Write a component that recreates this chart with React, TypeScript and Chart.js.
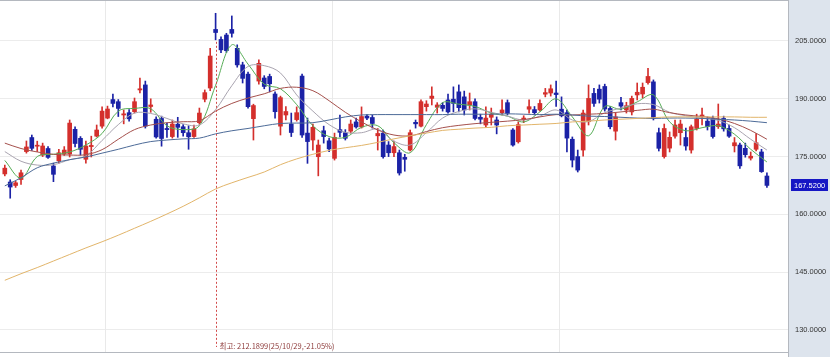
import React, { useEffect, useRef } from "react";
import { Chart, registerables } from "chart.js";

Chart.register(...registerables);

// ---- candle data (index = trading day) ----
const opens = [
  170.5, 168.4, 167.5, 169.05, 176.3, 179.95, 177.7, 175.4, 177.1, 172.56,
  173.9, 175.67, 175.67, 182.08, 179.75, 174.3, 177.6, 180.3, 182.9, 185.0,
  189.8, 189.25, 185.8, 186.4, 186.65, 192.3, 193.6, 188.0, 184.7, 184.9,
  182.3, 180.2, 183.4, 182.75, 181.2, 180.2, 183.8, 189.9, 192.8, 208.0,
  205.4, 206.55, 208.0, 203.1, 198.8, 196.4, 184.85, 194.6, 195.4, 195.8,
  191.25, 182.9, 185.8, 183.45, 184.6, 195.9, 181.1, 179.3, 174.97, 181.7,
  179.1, 174.55, 182.0, 181.2, 181.6, 184.0, 182.7, 185.5, 185.15, 180.4,
  181.1, 178.0, 176.0, 176.0, 174.8, 176.7, 183.9, 182.9, 187.95, 190.1,
  187.8, 188.3, 189.7, 189.9, 191.8, 190.5, 188.4, 189.25, 185.2, 183.2,
  185.2, 184.5, 186.4, 189.0, 181.9, 178.85, 184.6, 187.3, 187.2, 187.1,
  191.2, 191.5, 191.5, 187.3, 186.4, 179.5, 175.0, 176.7, 184.05, 191.4,
  192.5, 193.2, 187.5, 181.6, 189.0, 187.1, 186.6, 191.0, 191.25, 194.2,
  194.4, 181.2, 175.0, 177.2, 180.3, 181.2, 179.95, 176.7, 182.3, 185.3,
  184.2, 184.9, 182.8, 184.9, 182.3, 177.8, 178.0, 177.15, 174.6, 176.9,
  176.2, 169.96,
];
const highs = [
  172.8, 169.0, 168.6, 171.5, 179.05, 180.6, 179.0, 178.5, 177.6, 173.3,
  176.9, 177.6, 184.5, 182.7, 180.2, 179.05, 180.3, 183.2, 187.9, 188.1,
  191.2, 189.8, 187.1, 187.2, 190.2, 195.4, 194.6, 190.0, 185.3, 185.5,
  183.7, 184.5, 185.2, 183.3, 183.0, 183.2, 187.6, 192.3, 203.1, 212.1899,
  206.1, 207.0, 211.5, 204.0, 199.5, 196.95, 188.6, 200.1, 196.0, 196.4,
  191.8, 190.7, 188.0, 186.3, 187.9, 196.4, 185.0, 183.45, 179.3, 182.9,
  179.8, 181.1, 185.8, 182.0, 184.5, 185.0, 187.9, 185.9, 185.7, 182.3,
  181.9, 178.9, 179.0, 176.7, 175.6, 181.9, 184.5, 189.7, 189.5, 193.1,
  189.0, 189.0, 191.25, 193.1, 193.6, 192.0, 191.5, 190.0, 186.0, 187.9,
  187.6, 185.3, 189.7, 189.7, 182.3, 184.0, 185.6, 189.7, 188.0, 189.7,
  192.7, 193.6, 194.6, 190.5, 187.1, 180.1, 176.7, 187.1, 193.6, 192.7,
  193.6, 193.8, 188.0, 186.3, 190.4, 189.1, 190.7, 194.1, 194.1, 197.9,
  194.9, 182.4, 183.45, 181.4, 184.5, 184.5, 182.4, 183.2, 186.0, 187.6,
  185.3, 185.5, 188.65, 185.5, 183.2, 179.95, 178.5, 178.5, 176.2, 181.0,
  176.9, 170.8,
];
const lows = [
  170.0, 164.2, 167.0, 167.8, 175.9, 176.6, 176.3, 175.0, 174.5, 168.5,
  173.3, 175.3, 174.9, 177.5, 175.4, 173.3, 174.9, 180.1, 182.4, 184.8,
  187.9, 185.4, 183.5, 184.2, 186.3, 191.5, 182.4, 186.5, 179.8, 177.7,
  180.0, 179.8, 180.0, 180.3, 176.9, 180.0, 183.4, 189.2, 192.1, 205.3,
  202.0, 202.0, 206.0, 198.2, 194.1, 187.6, 179.3, 193.8, 192.6, 191.8,
  185.0, 180.6, 184.5, 180.2, 184.2, 180.0, 173.25, 176.7, 170.0, 178.5,
  176.3, 174.1, 180.1, 179.3, 181.1, 182.4, 182.4, 184.6, 182.4, 176.7,
  174.6, 175.0, 175.0, 170.2, 171.2, 176.45, 182.4, 182.7, 186.8, 188.4,
  186.3, 186.8, 186.3, 186.6, 186.6, 185.8, 187.1, 184.5, 183.5, 182.7,
  183.2, 180.9, 185.8, 185.8, 177.7, 178.5, 183.8, 186.3, 185.8, 186.8,
  190.5, 190.7, 188.0, 185.3, 176.2, 172.3, 171.0, 175.1, 183.2, 188.0,
  188.9, 186.8, 182.2, 179.3, 187.1, 186.3, 185.8, 189.7, 190.2, 193.8,
  184.5, 176.45, 174.6, 176.2, 179.8, 178.0, 176.7, 175.9, 181.9, 183.2,
  181.9, 179.8, 182.3, 181.6, 180.0, 176.2, 171.9, 174.85, 174.1, 176.45,
  170.9, 166.98,
];
const closes = [
  172.0, 167.1, 168.2, 170.8, 177.5, 177.15, 177.9, 177.75, 174.8, 170.4,
  176.0, 176.7, 183.7, 178.4, 176.9, 177.75, 177.9, 181.9, 186.8, 187.35,
  188.8, 187.5, 186.1, 184.8, 189.25, 192.6, 182.9, 188.4, 180.1, 179.7,
  182.0, 183.45, 182.6, 181.2, 180.15, 182.2, 186.3, 191.6, 201.1, 207.2,
  202.7, 202.5, 207.0, 198.8, 195.3, 187.95, 188.25, 199.2, 193.2, 193.9,
  186.65, 190.3, 186.7, 181.25, 186.4, 180.6, 178.9, 182.6, 178.0, 180.2,
  177.0, 180.0, 181.3, 179.75, 183.45, 182.7, 185.4, 185.0, 183.6, 181.0,
  174.97, 176.0, 177.6, 170.74, 174.3, 181.2, 183.5, 189.25, 188.65, 190.7,
  188.4, 187.5, 186.6, 188.8, 187.7, 187.1, 189.25, 184.9, 184.7, 185.0,
  186.0, 183.2, 187.1, 186.2, 178.0, 183.3, 185.0, 187.95, 186.4, 188.8,
  191.6, 192.6, 191.1, 185.6, 179.8, 174.1, 171.5, 186.3, 190.1, 188.8,
  189.9, 187.35, 182.75, 185.3, 188.1, 188.2, 190.1, 191.7, 193.0, 195.8,
  184.9, 177.15, 182.3, 180.0, 183.2, 183.45, 177.75, 182.75, 184.7, 185.8,
  182.8, 180.2, 183.45, 182.2, 180.3, 178.6, 172.6, 175.5, 175.1, 178.6,
  171.1, 167.52,
];

const maIndex = [
  0, 3, 6, 9, 12, 15, 18, 21, 24, 27, 30, 33, 36, 39, 42, 45, 48, 51, 54, 57,
  60, 63, 66, 69, 72, 75, 78, 81, 84, 87, 90, 93, 96, 99, 102, 105, 108, 111,
  114, 117, 120, 123, 126, 129, 132, 135, 138, 141,
];
const ma5 = [
  174.0, 169.4, 175.0, 175.6, 176.2, 178.0, 181.0, 186.8, 187.5, 187.4,
  183.0, 182.0, 183.0, 193.5, 204.0, 199.0, 193.8, 192.6, 188.5, 183.0,
  180.2, 180.0, 182.6, 183.0, 178.6, 176.0, 183.3, 189.0, 188.6, 188.0,
  186.3, 185.5, 184.0, 186.6, 190.0, 185.3, 180.4, 188.0, 187.3, 189.2,
  191.0, 184.0, 181.7, 182.5, 183.0, 180.8, 176.9, 173.6,
];
const ma10 = [
  176.3, 173.8, 172.8, 172.9, 174.2, 175.2, 179.2, 183.3, 186.3, 186.2,
  184.9, 183.5, 183.2, 187.2, 193.4, 198.4, 198.6, 196.7, 191.0, 186.8,
  183.3, 181.3, 181.2, 182.1, 179.0, 178.0, 181.2, 185.0, 186.7, 187.4,
  186.5, 185.5, 184.5, 185.5, 187.1, 184.5, 184.1, 186.4, 187.6, 188.7,
  188.5, 186.5, 185.6, 185.0, 184.4, 182.5, 179.5, 176.7,
];
const ma20 = [
  178.5, 177.1, 176.2, 175.6, 175.4, 175.5, 176.8, 179.5, 182.0, 183.2,
  183.8, 184.05, 184.3, 186.8, 188.8, 190.2, 191.3, 192.7, 193.0, 192.1,
  189.5, 186.5, 184.0, 181.9, 180.6, 180.4, 181.5, 182.5, 183.1, 183.55,
  183.9, 184.2, 184.6, 185.3, 185.9, 185.8, 186.0, 186.2, 186.6, 187.0,
  187.3, 186.4, 185.8, 185.4, 184.8, 183.6, 181.8, 179.5,
];
const ma60 = [
  167.4, 169.5, 172.1, 173.3, 174.2, 174.9, 175.9, 176.9, 178.0, 178.9,
  179.3, 179.6, 179.8, 180.9, 181.7, 182.3, 183.0, 183.6, 183.7, 183.8,
  184.5, 185.3, 185.8, 185.9, 185.9, 185.9, 185.9, 185.9, 186.0, 186.0,
  186.0, 186.1, 186.0, 185.9, 186.0, 185.8, 185.5, 185.4, 185.2, 185.0,
  184.9, 185.0, 185.0, 184.9, 184.7, 184.5, 184.2, 183.8,
];
const ma120 = [
  142.9, 144.6, 146.2, 147.9, 149.6, 151.3, 152.9, 154.6, 156.4, 158.2,
  160.1, 162.1, 164.3, 166.6, 168.2, 169.6, 171.0, 172.9, 174.4, 175.6,
  176.6, 177.3, 177.9, 178.7, 179.6, 180.4, 181.1, 181.8, 182.1, 182.4,
  182.6, 183.0, 183.2, 183.4, 183.6, 184.0, 184.2, 184.5, 184.7, 184.9,
  185.1, 185.3, 185.3, 185.3, 185.3, 185.3, 185.2, 185.2,
];

const yTicks = [130, 145, 160, 175, 190, 205];
const periodLines = [18.5, 60.5, 102.5];
const lastPrice = 167.52;
const highIndex = 39;
const highLabel = "최고: 212.1899(25/10/29,-21.05%)";

const UP = "#d42f2c";
const DOWN = "#1b22a6";

const panelPlugin = {
  id: "panelPlugin",
  beforeDraw(chart: any) {
    const { ctx, chartArea, width, height } = chart;
    ctx.save();
    ctx.fillStyle = "#ffffff";
    ctx.fillRect(0, 0, width, height);
    ctx.fillStyle = "#dde4ed";
    ctx.fillRect(chartArea.right, 0, width - chartArea.right, height);
    ctx.restore();
  },
  beforeDatasetsDraw(chart: any) {
    const { ctx, chartArea, scales } = chart;
    ctx.save();
    ctx.strokeStyle = "#e9e9e9";
    ctx.lineWidth = 1;
    ctx.beginPath();
    periodLines.forEach((v) => {
      const px = Math.round(scales.x.getPixelForValue(v)) + 0.5;
      ctx.moveTo(px, chartArea.top);
      ctx.lineTo(px, chartArea.bottom);
    });
    ctx.stroke();
    ctx.restore();
  },
  afterDraw(chart: any) {
    const { ctx, chartArea, width, scales } = chart;
    const y = scales.y;
    ctx.save();
    ctx.strokeStyle = "#b4b8bf";
    ctx.lineWidth = 1;
    ctx.beginPath();
    ctx.moveTo(0, 0.5);
    ctx.lineTo(chartArea.right, 0.5);
    ctx.moveTo(0, chartArea.bottom - 0.5);
    ctx.lineTo(chartArea.right, chartArea.bottom - 0.5);
    ctx.moveTo(chartArea.right + 0.5, 0);
    ctx.lineTo(chartArea.right + 0.5, chart.height);
    ctx.stroke();
    const py = Math.round(y.getPixelForValue(lastPrice));
    ctx.fillStyle = "#1616c4";
    ctx.fillRect(chartArea.right + 3, py - 6, width - chartArea.right - 5, 12);
    ctx.fillStyle = "#ffffff";
    ctx.font = '7.5px "Liberation Sans", Arial, sans-serif';
    ctx.textBaseline = "middle";
    ctx.textAlign = "left";
    ctx.fillText(lastPrice.toFixed(4), chartArea.right + 6, py + 0.5);
    ctx.restore();
  },
  afterDatasetsDraw(chart: any) {
    const { ctx, chartArea, scales } = chart;
    const px = Math.round(scales.x.getPixelForValue(highIndex)) + 0.5;
    const top = scales.y.getPixelForValue(lows[highIndex]) + 2;
    ctx.save();
    ctx.strokeStyle = "#d24a4a";
    ctx.lineWidth = 1;
    ctx.setLineDash([2, 2]);
    ctx.beginPath();
    ctx.moveTo(px, top);
    ctx.lineTo(px, chartArea.bottom - 6);
    ctx.stroke();
    ctx.setLineDash([]);
    ctx.fillStyle = "#8e3b3b";
    ctx.font = '7.5px "Noto Sans CJK KR", sans-serif';
    ctx.textBaseline = "middle";
    ctx.textAlign = "left";
    ctx.fillText(highLabel, px + 3, chartArea.bottom - 7);
    ctx.restore();
  },
};

function maData(values: number[]) {
  return maIndex.map((x, k) => ({ x, y: values[k] }));
}

export default function App() {
  const ref = useRef<HTMLCanvasElement | null>(null);

  useEffect(() => {
    if (!ref.current) return;
    const colors = opens.map((o, i) => (closes[i] >= o ? UP : DOWN));
    const lineDs = (label: string, values: number[], color: string) => ({
      type: "line" as const,
      label,
      data: maData(values),
      borderColor: color,
      borderWidth: 1,
      pointRadius: 0,
      tension: 0.35,
      fill: false,
      order: 0,
    });
    const chart = new Chart(ref.current, {
      type: "bar",
      data: {
        datasets: [
          lineDs("MA120", ma120, "#e2b56a"),
          lineDs("MA60", ma60, "#4d6b98"),
          lineDs("MA20", ma20, "#a5504c"),
          lineDs("MA10", ma10, "#a9a4b0"),
          lineDs("MA5", ma5, "#56ad56"),
          {
            type: "bar" as const,
            label: "wick",
            data: opens.map((_, i) => ({ x: i, y: [lows[i], highs[i]] })) as any,
            backgroundColor: colors,
            barThickness: 1,
            grouped: false,
            order: 2,
          } as any,
          {
            type: "bar" as const,
            label: "body",
            data: opens.map((o, i) => ({ x: i, y: [o, closes[i]] })) as any,
            backgroundColor: colors,
            barThickness: 4,
            minBarLength: 1,
            grouped: false,
            order: 1,
          } as any,
        ],
      },
      options: {
        animation: false,
        responsive: false,
        devicePixelRatio: 1,
        layout: { autoPadding: false, padding: { left: 0, right: 0, top: 0, bottom: 4 } },
        plugins: { legend: { display: false }, tooltip: { enabled: false } },
        scales: {
          x: {
            type: "linear",
            display: false,
            min: -0.888,
            max: 144.9,
            offset: false,
          },
          y: {
            type: "linear",
            position: "right",
            min: 124.03,
            max: 215.64,
            afterBuildTicks: (scale: any) => {
              scale.ticks = yTicks.map((v) => ({ value: v }));
            },
            afterFit: (scale: any) => {
              scale.width = 42;
              scale.paddingTop = 0;
              scale.paddingBottom = 0;
            },
            ticks: {
              callback: (v: any) => Number(v).toFixed(4),
              color: "#333333",
              font: { size: 7.5, family: '"Liberation Sans", Arial, sans-serif' },
              padding: 7,
              crossAlign: "near",
            },
            grid: { color: "#ececec", drawTicks: false, lineWidth: 1 },
            border: { display: false },
          },
        },
      } as any,
      plugins: [panelPlugin],
    });
    return () => chart.destroy();
  }, []);

  return (
    <div style={{ position: "absolute", left: 0, top: 0, width: 830, height: 357 }}>
      <canvas ref={ref} width={830} height={357} style={{ display: "block" }} />
    </div>
  );
}
